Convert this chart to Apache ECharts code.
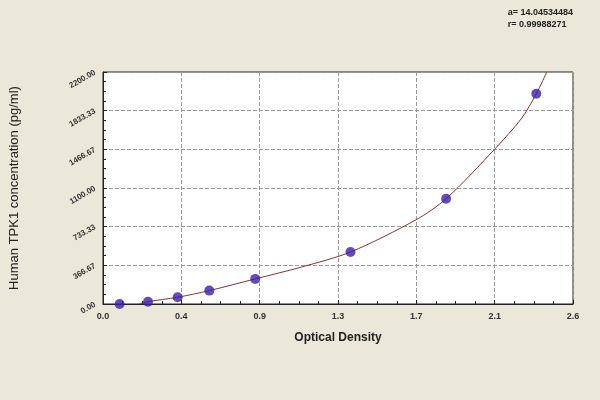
<!DOCTYPE html>
<html><head><meta charset="utf-8">
<script src="https://cdn.jsdelivr.net/npm/echarts@6/dist/echarts.min.js"></script>
<style>body{margin:0;background:#ebe7d9}#main{width:600px;height:400px}</style>
</head><body><div id="main"></div>
<script>
// standard points (OD, concentration)
var odVals = [0.092, 0.249, 0.413, 0.588, 0.842, 1.369, 1.898, 2.397];
var concVals = [0, 22, 64, 127, 238, 493, 998, 1993];
// fitted curve
var curveOd = [0.2, 0.249, 0.413, 0.588, 0.842, 1.097, 1.369, 1.733, 1.898, 2.167, 2.313, 2.397, 2.455];
var curveConc = [0, 22, 64, 127, 238, 350, 493, 800, 998, 1469, 1755, 1993, 2200];
var yTicks = ['0.00', '366.67', '733.33', '1100.00', '1466.67', '1833.33', '2200.00'];
var xTicks = ['0.0', '0.4', '0.9', '1.3', '1.7', '2.1', '2.6'];

var pts = odVals.map(function(v, i){ return [v, concVals[i]]; });
var curve = curveOd.map(function(v, i){ return [v, curveConc[i]]; });

var chart = echarts.init(document.getElementById('main'));
chart.setOption({
  backgroundColor: '#ebe7d9',
  animation: false,
  title: {
    text: 'a= 14.04534484\nr= 0.99988271',
    right: 22, top: 2,
    textStyle: {fontSize: 9, fontWeight: 'bold', color: '#222', lineHeight: 12, fontFamily: 'Liberation Sans', align: 'right'}
  },
  grid: {left: 98, right: 27, top: 72, bottom: 96, backgroundColor: '#fff', show: true, borderColor: '#222', borderWidth: 1},
  xAxis: {
    type: 'value', min: 0, max: 2.6, interval: 2.6 / 6,
    name: 'Optical Density', nameLocation: 'middle', nameGap: 28,
    nameTextStyle: {fontSize: 12, fontWeight: 'bold', color: '#222', fontFamily: 'Liberation Sans'},
    axisLine: {lineStyle: {color: '#222'}},
    axisTick: {show: true, inside: true, length: 4, lineStyle: {color: '#222'}},
    minorTick: {show: true, splitNumber: 4, length: 3, lineStyle: {color: '#222'}},
    axisLabel: {fontSize: 9, fontWeight: 'bold', color: '#333', formatter: function(v){ return xTicks[Math.round(v / (2.6 / 6))]; }},
    splitLine: {show: true, lineStyle: {type: 'dashed', color: '#999'}}
  },
  yAxis: {
    type: 'value', min: 0, max: 2200, interval: 2200 / 6,
    name: 'Human TPK1 concentration (pg/ml)', nameLocation: 'middle', nameGap: 82,
    nameTextStyle: {fontSize: 13, color: '#222', fontFamily: 'Liberation Sans'},
    axisLine: {lineStyle: {color: '#222'}},
    axisTick: {show: true, inside: true, length: 4, lineStyle: {color: '#222'}},
    minorTick: {show: true, splitNumber: 4, length: 3, lineStyle: {color: '#222'}},
    axisLabel: {fontSize: 8, fontWeight: 'bold', color: '#333', rotate: 30, formatter: function(v){ return yTicks[Math.round(v / (2200 / 6))]; }},
    splitLine: {show: true, lineStyle: {type: 'dashed', color: '#999'}}
  },
  series: [
    {type: 'line', data: curve, smooth: 0.3, showSymbol: false, lineStyle: {color: '#8b2f2f', width: 1}, z: 2},
    {type: 'scatter', data: pts, symbolSize: 10, itemStyle: {color: '#3b1fa8'}, z: 3}
  ]
});
</script></body></html>
